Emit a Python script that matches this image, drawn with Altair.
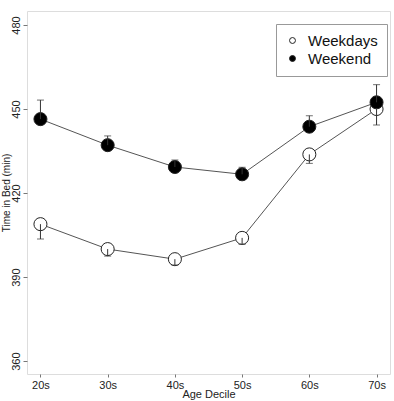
import altair as alt
import pandas as pd

# Mean time in bed (minutes) by age decile, with one-sided standard error bars
age_deciles = ["20s", "30s", "40s", "50s", "60s", "70s"]
weekdays_mean = [408.9, 400.0, 396.4, 404.0, 433.8, 450.0]
weekdays_se = [5.3, 2.5, 2.1, 2.3, 3.2, 5.7]
weekend_mean = [446.4, 437.1, 429.3, 426.7, 443.7, 452.4]
weekend_se = [6.8, 3.3, 2.5, 2.5, 3.9, 6.3]
groups = ["Weekdays", "Weekend"]

rows = []
for i, age in enumerate(age_deciles):
    # weekday bars hang below the mean, weekend bars rise above it
    rows.append({"age": age, "group": "Weekdays", "mean": weekdays_mean[i],
                 "end": weekdays_mean[i] - weekdays_se[i]})
    rows.append({"age": age, "group": "Weekend", "mean": weekend_mean[i],
                 "end": weekend_mean[i] + weekend_se[i]})
df = pd.DataFrame(rows)

font = "Liberation Sans"

x = alt.X("age:O", sort=age_deciles,
          scale=alt.Scale(type="point", padding=0.2),
          axis=alt.Axis(title="Age Decile", labelAngle=0, domain=False,
                        tickSize=3, labelPadding=2,
                        titleY=20, titleBaseline="middle",
                        tickColor="#777", labelColor="#222", titleColor="#222",
                        labelFontSize=11, titleFontSize=11, titleFontWeight="normal",
                        labelFont=font, titleFont=font))
y_scale = alt.Scale(domain=[355.4, 485], nice=False, zero=False)
y = alt.Y("mean:Q", scale=y_scale,
          axis=alt.Axis(title="Time in Bed (min)", values=[360, 390, 420, 450, 480],
                        domain=False, grid=False, tickSize=4, labelPadding=2,
                        labelAngle=270, labelAlign="center", labelBaseline="bottom",
                        titleX=-21, titleY=181.5, titleAngle=270,
                        titleAlign="center", titleBaseline="middle",
                        tickColor="#777", labelColor="#222", titleColor="#222",
                        labelFontSize=11, titleFontSize=10, titleFontWeight="normal",
                        labelFont=font, titleFont=font))

base = alt.Chart(df)

lines = base.mark_line(color="#555", strokeWidth=1).encode(
    x=x, y=y, detail="group:N")

bars = base.mark_rule(color="#333", strokeWidth=1).encode(
    x=x, y=y, y2="end:Q", detail="group:N")

caps = base.mark_tick(color="#333", thickness=1, size=7).encode(
    x=x, y=alt.Y("end:Q", scale=y_scale), detail="group:N")

points = base.mark_point(shape="circle", size=170, strokeWidth=1, stroke="#222",
                         opacity=1, filled=True).encode(
    x=x, y=y,
    fill=alt.Fill("group:N",
                  scale=alt.Scale(domain=groups, range=["white", "black"]),
                  legend=alt.Legend(title=None, orient="none", legendX=249, legendY=13,
                                    strokeColor="#999", padding=9, rowPadding=2,
                                    symbolType="circle", symbolSize=35,
                                    symbolStrokeColor="#222", symbolStrokeWidth=1,
                                    labelFontSize=15, labelFont=font, labelColor="#111",
                                    labelOffset=8)),
)

chart = alt.layer(lines, points, bars, caps).properties(
    width=363, height=363,
    autosize=alt.AutoSizeParams(type="none"),
    padding={"left": 27, "top": 11, "right": 4, "bottom": 27},
).configure_view(stroke="#aaa", strokeWidth=1.5).configure(background="white")

chart.save("out.html", embed_options={"renderer": "svg", "actions": False})
